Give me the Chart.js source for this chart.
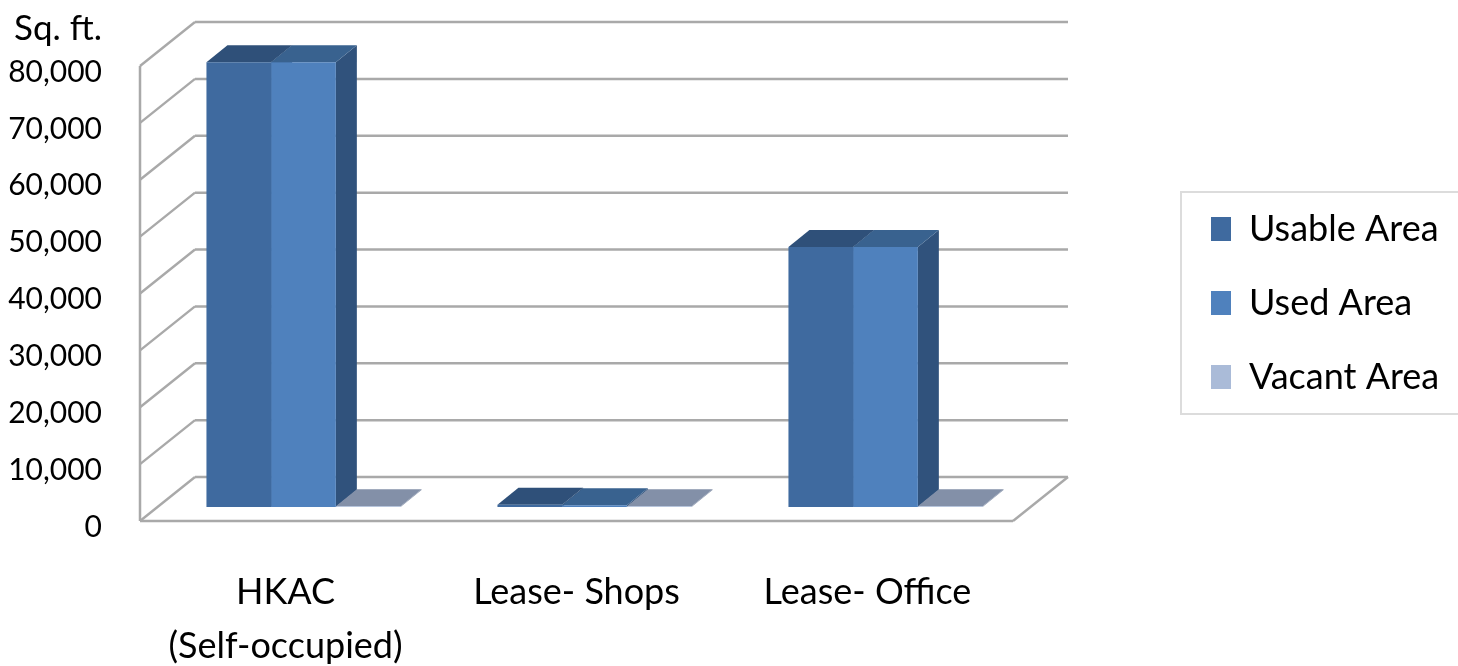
<!DOCTYPE html>
<html>
<head>
<meta charset="utf-8">
<title>Area by use</title>
<script src="https://cdn.jsdelivr.net/npm/chart.js@4"></script>
<style>
body { margin: 0; background: #fff; }
canvas { display: block; filter: blur(0.5px); }
</style>
</head>
<body>
<canvas id="canvas" width="1458" height="666"></canvas>
<script>
var categories = [['HKAC', '(Self-occupied)'], 'Lease- Shops', ['Lease- Office']];
var usableArea = [78200, 400, 45700];
var usedArea = [78200, 300, 45700];
var vacantArea = [150, 150, 150];

var frontColors = ['#3f6a9f', '#4f81bd', '#aabbd8'];
var topColors = ['#2f5079', '#39628f', '#8390a8'];
var sideColors = ['#2f5079', '#30527c', '#8390a8'];

var font = 'Lato';
var textSize = 36;
var tickSize = 30;

// 3d offsets, from the plane of the bars
var barDepth = { x: 21, y: -17 };
var wallBack = { x: 37, y: -30 };
var wallFront = { x: -18, y: 14 };
var wallColor = '#a9a9a9';

function poly(ctx, pts, color) {
	ctx.fillStyle = color;
	ctx.beginPath();
	ctx.moveTo(pts[0][0], pts[0][1]);
	for (var i = 1; i < pts.length; i++) {
		ctx.lineTo(pts[i][0], pts[i][1]);
	}
	ctx.closePath();
	ctx.fill();
}

function line(ctx, x1, y1, x2, y2) {
	ctx.beginPath();
	ctx.moveTo(x1, y1);
	ctx.lineTo(x2, y2);
	ctx.stroke();
}

var box3d = {
	id: 'box3d',
	afterLayout: function(chart) {
		// legend sits right of the plot, on its own
		var legend = chart.legend;
		legend.left = 1173;
		legend.right = 1458;
		legend.top = 173;
		legend.bottom = 173 + legend.height;
	},
	beforeDatasetsDraw: function(chart) {
		var ctx = chart.ctx;
		var area = chart.chartArea;
		var yScale = chart.scales.y;
		var fx = area.left + wallFront.x;
		var bx = area.left + wallBack.x;
		var rx = area.right + wallBack.x;
		var frx = area.right + wallFront.x;

		ctx.save();
		ctx.strokeStyle = wallColor;
		ctx.lineWidth = 2.5;
		yScale.ticks.forEach(function(t) {
			var y = yScale.getPixelForValue(t.value);
			line(ctx, fx, y + wallFront.y, bx, y + wallBack.y);
			line(ctx, bx, y + wallBack.y, rx, y + wallBack.y);
		});
		var y0 = yScale.getPixelForValue(0);
		var yTop = yScale.getPixelForValue(80000);
		line(ctx, fx, yTop + wallFront.y, fx, y0 + wallFront.y);
		line(ctx, fx, y0 + wallFront.y, frx, y0 + wallFront.y);
		line(ctx, frx, y0 + wallFront.y, rx, y0 + wallBack.y);

		// sides and tops go under the fronts
		chart.data.datasets.forEach(function(ds, d) {
			chart.getDatasetMeta(d).data.forEach(function(bar) {
				var l = bar.x - bar.width / 2;
				var r = bar.x + bar.width / 2;
				poly(ctx, [[r, bar.y], [r + barDepth.x, bar.y + barDepth.y], [r + barDepth.x, bar.base + barDepth.y], [r, bar.base]], sideColors[d]);
				poly(ctx, [[l, bar.y], [r, bar.y], [r + barDepth.x, bar.y + barDepth.y], [l + barDepth.x, bar.y + barDepth.y]], topColors[d]);
			});
		});
		ctx.restore();
	},
	afterDraw: function(chart) {
		var ctx = chart.ctx;
		ctx.save();
		// legend frame
		ctx.strokeStyle = '#dcdcdc';
		ctx.lineWidth = 2;
		ctx.strokeRect(1181, 192, 290, 222);
		// unit label over the axis
		ctx.fillStyle = '#000';
		ctx.font = '35px ' + font;
		ctx.textAlign = 'right';
		ctx.textBaseline = 'middle';
		ctx.fillText('Sq. ft.', 102, 29);
		ctx.restore();
	}
};

var graph = {
	labels: categories,
	datasets: [
		{ label: 'Usable Area', backgroundColor: frontColors[0], data: usableArea },
		{ label: 'Used Area', backgroundColor: frontColors[1], data: usedArea },
		{ label: 'Vacant Area', backgroundColor: frontColors[2], data: vacantArea }
	]
};

var bar = new Chart(document.getElementById('canvas'), {
	type: 'bar',
	data: graph,
	plugins: [box3d],
	options: {
		responsive: false,
		animation: false,
		barPercentage: 1,
		categoryPercentage: 0.667,
		layout: { autoPadding: false, padding: { top: 52, right: 427 } },
		plugins: {
			tooltip: { enabled: false },
			legend: {
				position: 'chartArea',
				align: 'start',
				labels: {
					boxWidth: 20,
					boxHeight: 24,
					padding: 38,
					color: '#000',
					font: { family: font, size: textSize }
				}
			}
		},
		scales: {
			x: {
				afterFit: function(scale) { scale.height = 159; },
				grid: { display: false, drawTicks: false },
				border: { display: false },
				ticks: {
					autoSkip: false,
					maxRotation: 0,
					padding: 58,
					labelOffset: -18,
					color: '#000',
					font: { family: font, size: textSize, lineHeight: 1.5 }
				}
			},
			y: {
				min: 0,
				max: 80000,
				afterFit: function(scale) {
					scale.width = 158;
					// else the scale keeps room for its labels and ignores layout.padding
					scale.paddingTop = 0;
					scale.paddingBottom = 0;
				},
				grid: { display: false, drawTicks: false },
				border: { display: false },
				ticks: {
					stepSize: 10000,
					autoSkip: false,
					padding: 56,
					labelOffset: 20,
					color: '#000',
					font: { family: font, size: tickSize },
					callback: function(v) { return v.toLocaleString('en-US'); }
				}
			}
		}
	}
});
</script>
</body>
</html>
